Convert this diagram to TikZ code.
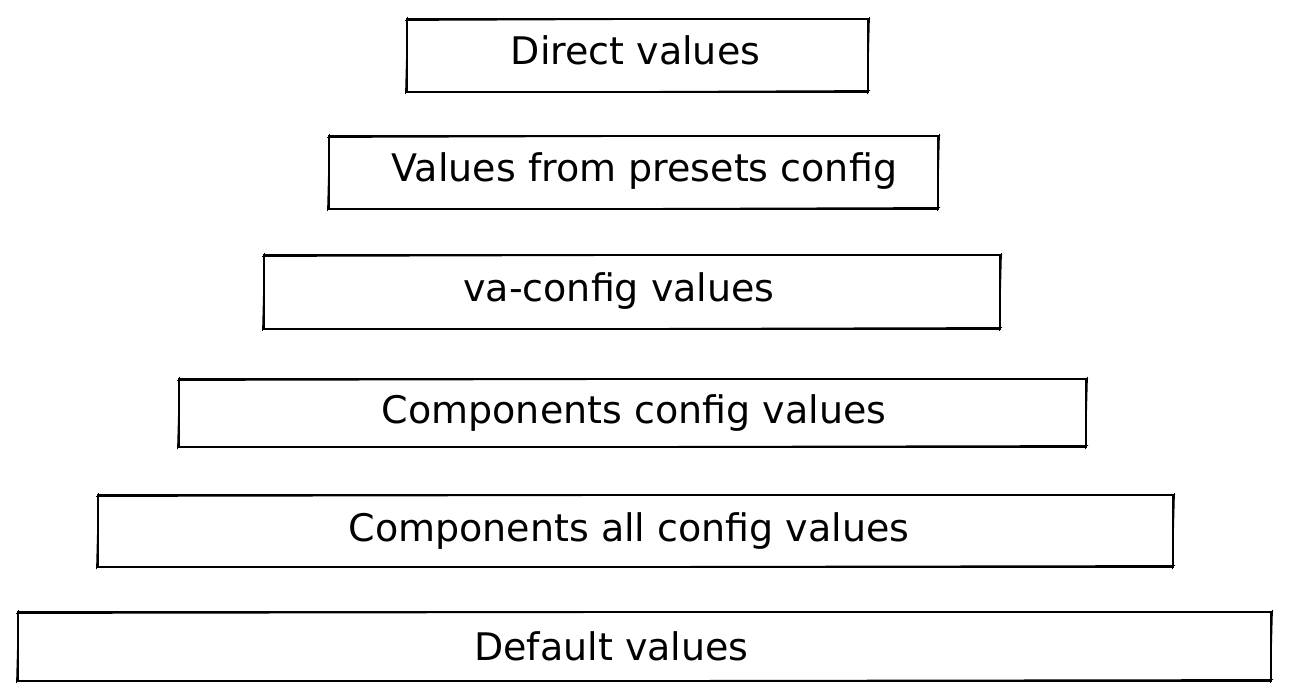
\documentclass[tikz,border=0pt]{standalone}
\usepackage{fontspec}
\setmainfont{DejaVu Sans}
\begin{document}
\begin{tikzpicture}[x=1pt,y=-1pt,
  box/.style={draw=black, line width=2pt, inner sep=0pt, outer sep=0pt, fill=none},
  sketch/.style={draw=black, line width=0.8pt},
  lbl/.style={anchor=base, inner sep=0pt, font=\fontsize{38}{44}\selectfont, text=black}]
\useasboundingbox[fill=white] (0,0) rectangle (1290,700);
% boxes: (left, top, right, bottom)
\node[box, minimum width=461pt, minimum height=73pt] (b1) at (637.5,55.5) {};
\node[box, minimum width=609pt, minimum height=73pt] (b2) at (633.5,172.5) {};
\node[box, minimum width=736pt, minimum height=74pt] (b3) at (632,292) {};
\node[box, minimum width=907pt, minimum height=68pt] (b4) at (632.5,413) {};
\node[box, minimum width=1075pt, minimum height=72pt] (b5) at (635.5,531) {};
\node[box, minimum width=1253pt, minimum height=69pt] (b6) at (644.5,646.5) {};
% second sketchy strokes
\foreach \b in {b1,b2,b3,b4,b5,b6}{
  \draw[sketch] ([shift={(-2,1.5)}]\b.north west) -- ([shift={(2,-0.5)}]\b.north east);
  \draw[sketch] ([shift={(1.5,-2)}]\b.north east) -- ([shift={(-0.5,2)}]\b.south east);
  \draw[sketch] ([shift={(2,-1.5)}]\b.south east) -- ([shift={(-2,0.5)}]\b.south west);
  \draw[sketch] ([shift={(-1.5,2)}]\b.south west) -- ([shift={(0.5,-2)}]\b.north west);
}
% labels
\node[lbl] (t1) at (635.5,65) {Direct values};
\node[lbl] (t2) at (644.5,182) {Values from presets config};
\node[lbl] (t3) at (619,302) {va-config values};
\node[lbl] (t4) at (634,423) {Components config values};
\node[lbl] (t5) at (629,541) {Components all config values};
\node[lbl] (t6) at (611.5,660) {Default values};
\end{tikzpicture}
\end{document}
